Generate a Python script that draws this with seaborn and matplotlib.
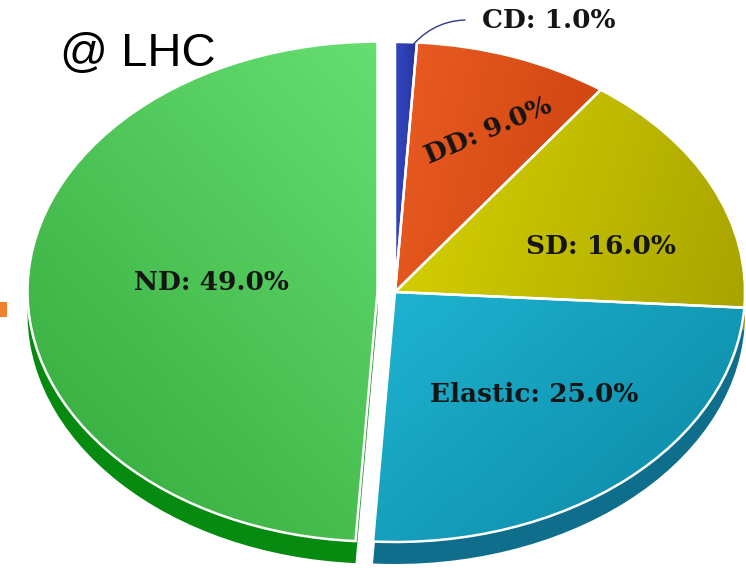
import numpy as np
import matplotlib
matplotlib.use("Agg")
import matplotlib.pyplot as plt
import seaborn as sns
from matplotlib.colors import to_rgb
from matplotlib.patches import Rectangle

# Share of the pp cross-section by process
processes = ["CD", "DD", "SD", "Elastic", "ND"]
shares = [1.0, 9.0, 16.0, 25.0, 49.0]

# Top-face gradient (light -> dark) and extruded side colour per slice
top_light = ["#3447C2", "#EA5C22", "#DAD400", "#1FB4D2", "#66DE70"]
top_dark = ["#2535A0", "#CC420F", "#A8A400", "#0A86A2", "#33A83B"]
side_colors = ["#1E2A80", "#A83208", "#8A8800", "#0E6E8C", "#078A10"]
# gradient direction (screen dx, dy) per slice
grad_dir = [(1, 0), (1, 0.3), (1, 0.2), (0.8, 0.6), (-0.6, 0.8)]
explode = [0, 0, 0, 0, 0.05]

# label anchor points (pixels) and rotations
label_px = [(549, 21), (488, 131), (601, 247), (534, 394), (211, 283)]
label_rot = [0, 23, 0, 0, 0]

W, H = 746, 568
CX, CY = 395, 292      # pie centre in pixels
RX, RY = 350, 250      # ellipse radii in pixels
DEPTH = 22             # extrusion depth in pixels

sns.set_theme(style="white")
plt.rcParams["font.family"] = ["DejaVu Sans"]

fig = plt.figure(figsize=(W / 100, H / 100), dpi=100)
fig.patch.set_facecolor("white")
ax = fig.add_axes([0, 0, 1, 1])


def to_data(px, py):
    return (px - CX) / RX, (CY - py) / RY


# extruded side: same pie shifted down
ax.pie(shares, colors=side_colors, startangle=90, counterclock=False,
       explode=explode, center=(0, -DEPTH / RY),
       wedgeprops=dict(linewidth=0))

# top face
wedges, _ = ax.pie(shares, colors=top_dark, startangle=90, counterclock=False,
                   explode=explode,
                   wedgeprops=dict(edgecolor="white", linewidth=1.8))

n = 120
for w, c1, c2, (gx, gy) in zip(wedges, top_light, top_dark, grad_dir):
    ext = w.get_path().get_extents()
    u, v = np.meshgrid(np.linspace(0, 1, n), np.linspace(0, 1, n))
    t = u * gx + v * gy
    t = (t - t.min()) / (t.max() - t.min())
    a, b = np.array(to_rgb(c1)), np.array(to_rgb(c2))
    img = a[None, None, :] * (1 - t[..., None]) + b[None, None, :] * t[..., None]
    im = ax.imshow(img, extent=(ext.x0, ext.x1, ext.y0, ext.y1), origin="upper",
                   aspect="auto", zorder=2, interpolation="bilinear")
    im.set_clip_path(w)
    w.set_facecolor("none")
    w.set_zorder(3)

label_font = dict(family=["DejaVu Serif"], fontweight="bold", fontsize=19,
                  color="#151515")
for name, share, (px, py), rot in zip(processes, shares, label_px, label_rot):
    text = f"{name}: {share:.1f}%"
    if name == "CD":
        ax.annotate(text, xy=to_data(407, 52), xytext=to_data(px, py),
                    ha="center", va="center", zorder=5, **label_font,
                    arrowprops=dict(arrowstyle="-", color="#2B3A8A", lw=1.0,
                                    relpos=(0, 0.5), shrinkA=10, shrinkB=0,
                                    connectionstyle="arc3,rad=0.3"))
    else:
        ax.text(*to_data(px, py), text, ha="center", va="center",
                rotation=rot, rotation_mode="anchor", zorder=5, **label_font)

ax.set_xlim(-CX / RX, (W - CX) / RX)
ax.set_ylim((CY - H) / RY, CY / RY)
ax.set_aspect("auto")
ax.axis("off")

fig.text(60 / W, 1 - 66 / H, "@ LHC", fontsize=34, color="black",
         family=["Liberation Sans", "DejaVu Sans"], ha="left", va="baseline")
fig.add_artist(Rectangle((0, 1 - 317 / H), 7 / W, 15 / H,
                         transform=fig.transFigure, color="#F0802E", lw=0))

fig.savefig("out.png", dpi=100)
